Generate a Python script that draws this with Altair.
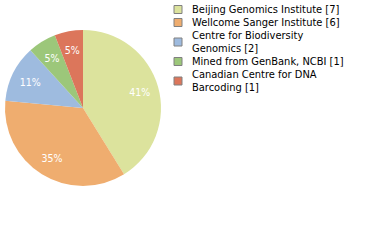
import altair as alt
import pandas as pd

names = ["Beijing Genomics Institute", "Wellcome Sanger Institute",
         "Centre for Biodiversity Genomics", "Mined from GenBank, NCBI",
         "Canadian Centre for DNA Barcoding"]
counts = [7, 6, 2, 1, 1]
legend_labels = ["Beijing Genomics Institute [7]", "Wellcome Sanger Institute [6]",
                 "Centre for Biodiversity|Genomics [2]", "Mined from GenBank, NCBI [1]",
                 "Canadian Centre for DNA|Barcoding [1]"]
pct_labels = ["41%", "35%", "11%", "5%", "5%"]
colors = ["#dce39d", "#efad6f", "#9ebbdf", "#9cc77a", "#dc765b"]

df = pd.DataFrame({
    "idx": list(range(len(names))),
    "name": names,
    "count": counts,
    "legend": legend_labels,
    "pct": pct_labels,
})

FONT = "DejaVu Sans Condensed, DejaVu Sans"

color = alt.Color("legend:N", scale=alt.Scale(domain=legend_labels, range=colors), legend=None)

pie_base = alt.Chart(df).encode(
    theta=alt.Theta("count:Q", stack=True),
    order=alt.Order("idx:Q"),
)

arc = pie_base.mark_arc(outerRadius=78).encode(
    x=alt.value(83), y=alt.value(108), color=color
)
text = pie_base.mark_text(radius=59, fontSize=10.5, font=FONT, dy=1).encode(
    text="pct:N", x=alt.value(83), y=alt.value(108), color=alt.value("white")
)

# legend built from the same data: one text line = one unit on the y scale
leg = alt.Chart(df).transform_calculate(
    lines="length(split(datum.legend, '|'))"
).transform_window(
    cum="sum(lines)", sort=[alt.SortField("idx")], frame=[None, 0]
).transform_calculate(
    sym_y="datum.cum - datum.lines + datum.lines / 2",
    txt_y="datum.cum - datum.lines + 0.5",
)
yscale = alt.Scale(domain=[0, 7], range=[3, 94])

leg_sym = leg.mark_square(size=64, stroke="#808080", strokeWidth=1, opacity=1).encode(
    x=alt.value(178),
    y=alt.Y("sym_y:Q", scale=yscale, axis=None),
    color=color,
)
leg_txt = leg.mark_text(align="left", baseline="middle", fontSize=11, font=FONT,
                        color="black", lineBreak="|").encode(
    x=alt.value(192),
    y=alt.Y("txt_y:Q", scale=yscale, axis=None),
    text="legend:N",
)

chart = alt.layer(arc, text, leg_sym, leg_txt).properties(
    width=380, height=240, autosize="none", padding=0
).configure_view(stroke=None)

chart.save("out.html", embed_options={"renderer": "svg", "actions": False})
